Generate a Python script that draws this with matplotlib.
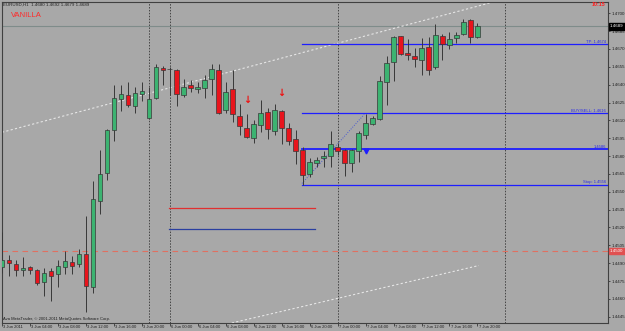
import matplotlib
matplotlib.use('Agg')
import matplotlib.pyplot as plt

plt.rcParams['font.family'] = ['Liberation Sans', 'DejaVu Sans']

BG = '#a8a8a8'
BULL = '#3cb371'
BEAR = '#e8141c'
WICK = '#383838'

# EURUSD H1, 3 Jun 2011 00:00 .. 7 Jun 2011 20:00
opens = [1.4487, 1.4493, 1.4489, 1.4484, 1.4487, 1.4484, 1.4474, 1.4483, 1.4481, 1.4487,
         1.4491, 1.4489, 1.4498, 1.4470, 1.4542, 1.4566, 1.4602, 1.4628, 1.4631, 1.4622,
         1.4632, 1.4612, 1.4629, 1.4654, 1.4653, 1.4652, 1.4631, 1.4640, 1.4636, 1.4637,
         1.4645, 1.4652, 1.4619, 1.4636, 1.4614, 1.4604, 1.4595, 1.4606, 1.4617, 1.4601,
         1.4618, 1.4604, 1.4594, 1.4585, 1.4565, 1.4574, 1.4578, 1.4580, 1.4588, 1.4585,
         1.4574, 1.4584, 1.4598, 1.4607, 1.4611, 1.4642, 1.4659, 1.4681, 1.4667, 1.4664,
         1.4661, 1.4672, 1.4655, 1.4681, 1.4673, 1.4679, 1.4683, 1.4694, 1.4680]
highs = [1.4516, 1.4497, 1.4493, 1.4495, 1.4488, 1.4485, 1.4486, 1.4486, 1.4493, 1.4500,
         1.4496, 1.4502, 1.4530, 1.4559, 1.4585, 1.4603, 1.4640, 1.4640, 1.4642, 1.4638,
         1.4642, 1.4638, 1.4657, 1.4656, 1.4655, 1.4653, 1.4645, 1.4644, 1.4642, 1.4648,
         1.4657, 1.4657, 1.4642, 1.4652, 1.4624, 1.4615, 1.4610, 1.4627, 1.4620, 1.4624,
         1.4619, 1.4608, 1.4602, 1.4588, 1.4578, 1.4579, 1.4584, 1.4601, 1.4591, 1.4586,
         1.4586, 1.4601, 1.4615, 1.4614, 1.4647, 1.4664, 1.4681, 1.4681, 1.4678, 1.4671,
         1.4679, 1.4680, 1.4691, 1.4683, 1.4684, 1.4684, 1.4695, 1.4695, 1.4692]
lows = [1.4482, 1.4479, 1.4479, 1.4479, 1.4481, 1.4472, 1.4462, 1.4458, 1.4470, 1.4481,
        1.4481, 1.4487, 1.4449, 1.4465, 1.4531, 1.4560, 1.4593, 1.4618, 1.4621, 1.4616,
        1.4626, 1.4611, 1.4628, 1.4640, 1.4631, 1.4622, 1.4630, 1.4634, 1.4633, 1.4629,
        1.4631, 1.4615, 1.4616, 1.4609, 1.4598, 1.4595, 1.4591, 1.4600, 1.4594, 1.4598,
        1.4590, 1.4589, 1.4573, 1.4556, 1.4562, 1.4571, 1.4571, 1.4571, 1.4581, 1.4563,
        1.4567, 1.4575, 1.4594, 1.4606, 1.4610, 1.4623, 1.4643, 1.4665, 1.4661, 1.4655,
        1.4648, 1.4648, 1.4653, 1.4661, 1.4670, 1.4675, 1.4682, 1.4675, 1.4679]
closes = [1.4493, 1.4490, 1.4484, 1.4486, 1.4484, 1.4473, 1.4482, 1.4479, 1.4488, 1.4492,
          1.4488, 1.4498, 1.4471, 1.4544, 1.4565, 1.4602, 1.4629, 1.4632, 1.4623, 1.4633,
          1.4635, 1.4628, 1.4655, 1.4652, 1.4653, 1.4632, 1.4638, 1.4637, 1.4638, 1.4644,
          1.4653, 1.4616, 1.4634, 1.4615, 1.4605, 1.4596, 1.4607, 1.4616, 1.4603, 1.4619,
          1.4604, 1.4593, 1.4584, 1.4564, 1.4575, 1.4577, 1.4580, 1.4590, 1.4584, 1.4574,
          1.4585, 1.4599, 1.4608, 1.4612, 1.4643, 1.4658, 1.4680, 1.4666, 1.4665, 1.4662,
          1.4671, 1.4652, 1.4682, 1.4674, 1.4678, 1.4682, 1.4693, 1.4680, 1.4689]

time_labels = ['3 Jun 2011', '3 Jun 04:00', '3 Jun 08:00', '3 Jun 12:00', '3 Jun 16:00',
               '3 Jun 20:00', '6 Jun 00:00', '6 Jun 04:00', '6 Jun 08:00', '6 Jun 12:00',
               '6 Jun 16:00', '6 Jun 20:00', '7 Jun 00:00', '7 Jun 04:00', '7 Jun 08:00',
               '7 Jun 12:00', '7 Jun 16:00', '7 Jun 20:00']
price_ticks = [1.4445, 1.4460, 1.4475, 1.4490, 1.4505, 1.4520, 1.4535, 1.4550, 1.4565,
               1.4580, 1.4595, 1.4610, 1.4625, 1.4640, 1.4655, 1.4670, 1.4685, 1.4700]

separators = [21, 24, 48, 72]

level_names = ['TP: 1.4674', 'BUY/SELL: 1.4616', '1.4586', 'Stop: 1.4556']
level_prices = [1.4674, 1.4616, 1.4586, 1.4556]
level_start = 42.9

pending_prices = [1.4536, 1.4519]
pending_colors = ['#e03030', '#2a3fa0']
pending_span = [23.9, 44.8]

bid_price = 1.4689
alert_price = 1.4500

upper_channel_x = [0, 72]
upper_channel_y = [1.4600, 1.47122]
lower_channel_x = [25, 68.2]
lower_channel_y = [1.4429, 1.4488]

entry_line_x = [42.9, 51.8]
entry_line_y = [1.4557, 1.4615]

sell_arrows_x = [35, 40]
sell_arrows_y = [1.4627, 1.4633]
buy_arrow_x = 52
buy_arrow_y = 1.4584


def draw_candles(ax):
    for i in range(len(opens)):
        o, h, l, c = opens[i], highs[i], lows[i], closes[i]
        ax.vlines(i, l, h, color=WICK, lw=0.7, zorder=3)
        color = BULL if c >= o else BEAR
        height = max(abs(c - o), 0.00003)
        ax.bar(i, height, bottom=min(o, c), width=0.66, color=color,
               edgecolor=WICK, linewidth=0.5, zorder=4)


def main():
    fig = plt.figure(figsize=(6.25, 3.31), dpi=100, facecolor=BG)
    ax = fig.add_axes([2 / 625, 8 / 331, 606 / 625, 321 / 331])
    ax.set_facecolor(BG)

    # vertical period separators
    for s in separators:
        ax.axvline(s, color='#444444', lw=0.7, linestyle=(0, (1.5, 1.5)), zorder=1)

    # bid line and alert line
    ax.axhline(bid_price, color='#7f8c8a', lw=0.8, zorder=1)
    ax.axhline(alert_price, color='#e07060', lw=0.8, linestyle=(0, (5, 4)), zorder=1)

    # channel
    ax.plot(upper_channel_x, upper_channel_y, color='#e6e6e6', lw=0.8,
            linestyle=(0, (2, 2)), zorder=2)
    ax.plot(lower_channel_x, lower_channel_y, color='#e6e6e6', lw=0.8,
            linestyle=(0, (2, 2)), zorder=2)

    # order levels
    for name, p in zip(level_names, level_prices):
        lw = 1.3 if name == '1.4586' else 0.9
        ax.plot([level_start, 90], [p, p], color='#1e1eff', lw=lw, zorder=2)
        ax.text(86.4, p + 0.00003, name, color='#2828e8', fontsize=3,
                ha='right', va='bottom', zorder=6)

    for p, col in zip(pending_prices, pending_colors):
        ax.plot(pending_span, [p, p], color=col, lw=0.9, zorder=2)

    ax.plot(entry_line_x, entry_line_y, color='#4a5ad0', lw=0.7,
            linestyle=(0, (1, 1.5)), zorder=2)

    draw_candles(ax)

    for x, y in zip(sell_arrows_x, sell_arrows_y):
        ax.text(x, y, '\u2193', color='#ee1111', fontsize=7, fontweight='bold',
                family=['DejaVu Sans'], ha='center', va='center', zorder=6)
    ax.plot(buy_arrow_x, buy_arrow_y, marker='v', ms=3.5, color='#1e1eff', zorder=6)

    ax.set_xlim(0.1, 0.1 + 606 / 7)
    ax.set_ylim(1.44397, 1.47095)

    # price axis
    ax.yaxis.tick_right()
    ax.set_yticks(price_ticks)
    ax.set_yticklabels(['%.4f' % v for v in price_ticks])
    ax.tick_params(axis='y', length=1.6, width=0.5, pad=1.2, labelsize=3.2,
                   colors='#202020')

    # time axis
    idx = list(range(0, len(opens), 4))
    ax.set_xticks(idx)
    ax.set_xticklabels([])
    ax.tick_params(axis='x', length=2.2, width=0.5, colors='#202020')
    for i, lab in zip(idx, time_labels):
        ax.annotate(lab, xy=(i, 0), xycoords=('data', 'axes fraction'),
                    xytext=(1.0, -1.2), textcoords='offset points',
                    fontsize=3, ha='left', va='top', color='#202020',
                    annotation_clip=False)

    for sp in ax.spines.values():
        sp.set_color('#404040')
        sp.set_linewidth(0.8)

    # price boxes on the axis
    ax.annotate('%.4f' % bid_price, xy=(1.0, bid_price), xycoords=('axes fraction', 'data'),
                xytext=(1.5, 0), textcoords='offset points', fontsize=3.2, color='white',
                ha='left', va='center', annotation_clip=False,
                bbox=dict(boxstyle='square,pad=0.25', fc='black', ec='black'))
    ax.annotate('%.4f' % alert_price, xy=(1.0, alert_price), xycoords=('axes fraction', 'data'),
                xytext=(1.5, 0), textcoords='offset points', fontsize=3.2, color='white',
                ha='left', va='center', annotation_clip=False,
                bbox=dict(boxstyle='square,pad=0.25', fc='#e05050', ec='#e05050'))

    fig.text(3 / 625, 1 - 5 / 331, 'EURUSD,H1  1.4680 1.4692 1.4679 1.4689',
             fontsize=3.2, color='#202020', va='center')
    fig.text(11 / 625, 1 - 15.5 / 331, 'VANILLA', fontsize=5.5, color='#ff2a2a',
             va='center')
    fig.text(605 / 625, 1 - 5 / 331, '10:15', fontsize=3.8, fontweight='bold',
             color='#ff2020', ha='right', va='center')
    fig.text(3 / 625, 1 - 319.3 / 331,
             'Ava MetaTrader, \u00a9 2001-2011 MetaQuotes Software Corp.',
             fontsize=3, color='#202020', va='center')

    fig.savefig('out.png', dpi=100, facecolor=BG)


if __name__ == '__main__':
    main()
